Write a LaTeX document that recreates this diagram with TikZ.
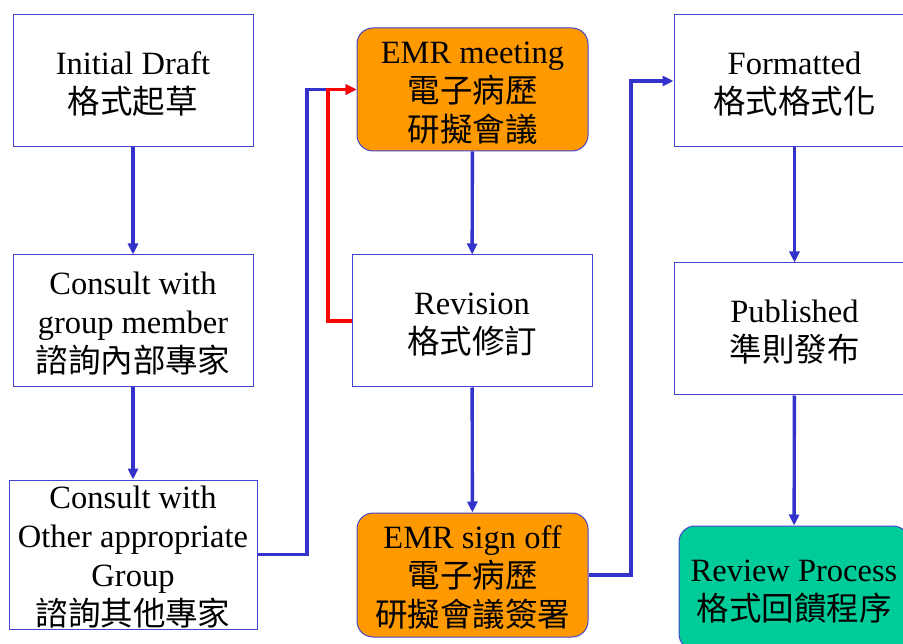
\documentclass[tikz,border=0pt]{standalone}
\usepackage{fontspec}
\setmainfont{Liberation Serif}
\newfontfamily\cjk{Noto Sans CJK TC}
\usetikzlibrary{arrows.meta}
\definecolor{bordblue}{RGB}{68,68,204}
\definecolor{linkblue}{RGB}{51,51,204}
\definecolor{emrorange}{RGB}{255,153,0}
\definecolor{revteal}{RGB}{0,204,153}
\newcommand\boxlift{\rule{0pt}{28pt}}
\begin{document}
\begin{tikzpicture}[x=1pt,y=-1pt,
  box/.style={draw=bordblue,line width=1pt,fill=white,inner sep=0pt,align=center,
    font=\fontsize{32.5}{39}\selectfont,text=black},
  orangebox/.style={box,fill=emrorange,rounded corners=16pt},
  tealbox/.style={box,fill=revteal,rounded corners=16pt},
  link/.style={draw=linkblue,line width=3.4pt,-{Triangle[length=11pt,width=10pt]}},
  redlink/.style={draw=red,line width=3.4pt,-{Triangle[length=11pt,width=10pt]}}]
\useasboundingbox (0,0) rectangle (903,644);
\clip (0,0) rectangle (903,644);
\fill[white] (0,0) rectangle (903,644);

\node[box,minimum width=240pt,minimum height=132pt] (draft) at (133,81)
  {\boxlift Initial Draft\\{\cjk 格式起草}};
\node[box,minimum width=240pt,minimum height=132pt] (group) at (133,321)
  {\boxlift Consult with\\group member\\{\cjk 諮詢內部專家}};
\node[box,minimum width=248pt,minimum height=149pt] (other) at (133,554.5)
  {\boxlift Consult with\\Other appropriate\\Group\\{\cjk 諮詢其他專家}};

\node[orangebox,minimum width=231pt,minimum height=123pt] (meet) at (472.5,89.5)
  {\boxlift EMR meeting\\{\cjk 電子病歷}\\{\cjk 研擬會議}};
\node[box,minimum width=240pt,minimum height=132pt] (rev) at (472,321)
  {\boxlift Revision\\{\cjk 格式修訂}};
\node[orangebox,minimum width=231pt,minimum height=124pt] (sign) at (472.5,575)
  {\boxlift EMR sign off\\{\cjk 電子病歷}\\{\cjk 研擬會議簽署}};

\node[box,minimum width=241pt,minimum height=132pt] (fmt) at (794.5,81)
  {\boxlift Formatted\\{\cjk 格式格式化}};
\node[box,minimum width=241pt,minimum height=132pt] (pub) at (794.5,329)
  {\boxlift Published\\{\cjk 準則發布}};
\node[tealbox,minimum width=230pt,minimum height=124pt] (review) at (794,588)
  {\boxlift Review Process\\{\cjk 格式回饋程序}};

\coordinate (c1) at (307,554.5);
\coordinate (c2) at (328,321);
\coordinate (c3) at (631,575);

\draw[link] (draft) -- (group);
\draw[link] (group) -- (other);
\draw[link] (other.east) -- (c1) |- (meet.west);
\draw[redlink] (rev.west) -- (c2) |- (meet.west);
\draw[link] (meet) -- (rev);
\draw[link] (rev) -- (sign);
\draw[link] (sign.east) -- (c3) |- (fmt.west);
\draw[link] (fmt) -- (pub);
\draw[link] (pub) -- (review);
\end{tikzpicture}
\end{document}
